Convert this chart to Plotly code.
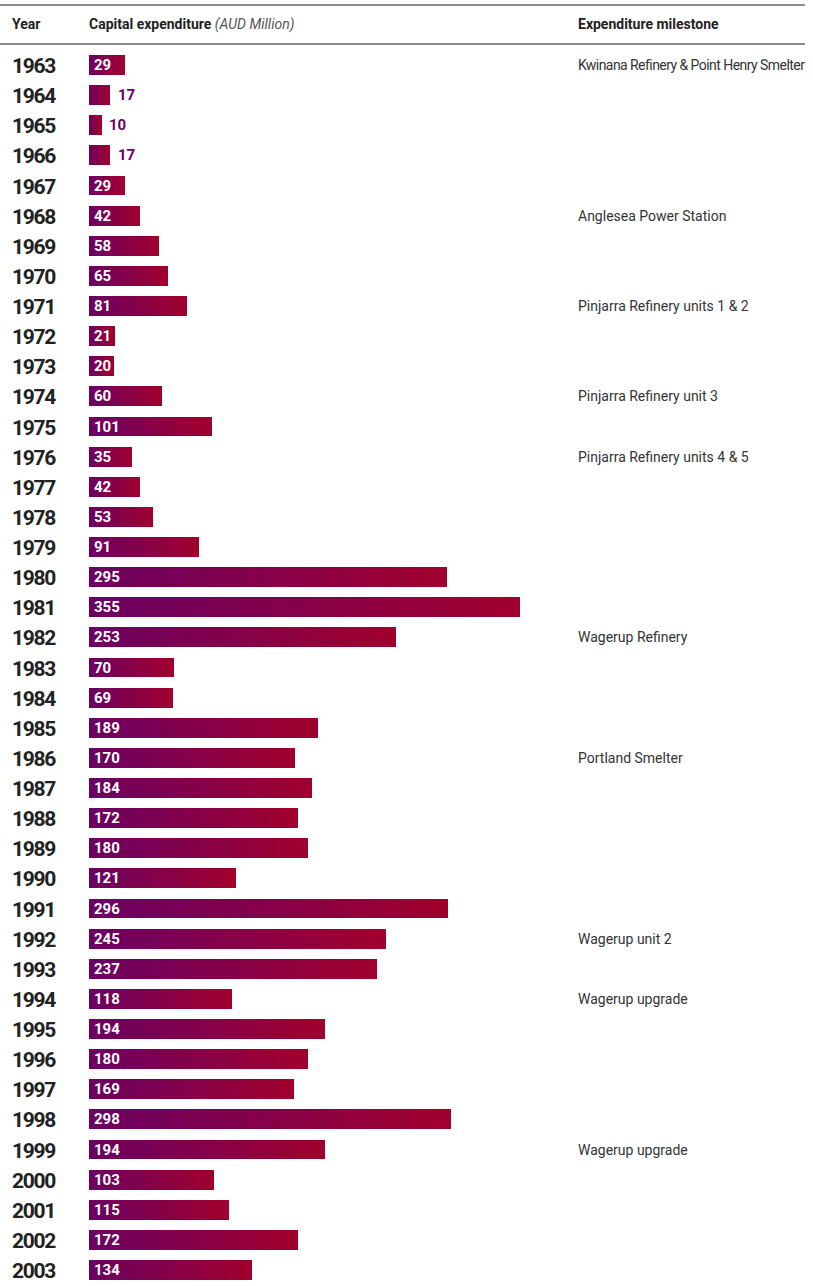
import plotly.graph_objects as go

years = list(range(1963, 2004))
capex = [29, 17, 10, 17, 29, 42, 58, 65, 81, 21, 20, 60, 101, 35, 42, 53, 91,
         295, 355, 253, 70, 69, 189, 170, 184, 172, 180, 121, 296, 245, 237,
         118, 194, 180, 169, 298, 194, 103, 115, 172, 134]
milestones = {
    1963: "Kwinana Refinery & Point Henry Smelter",
    1968: "Anglesea Power Station",
    1971: "Pinjarra Refinery units 1 & 2",
    1974: "Pinjarra Refinery unit 3",
    1976: "Pinjarra Refinery units 4 & 5",
    1982: "Wagerup Refinery",
    1986: "Portland Smelter",
    1992: "Wagerup unit 2",
    1994: "Wagerup upgrade",
    1999: "Wagerup upgrade",
}

W, H = 813, 1286
FONT = "Roboto"
C0 = (108, 0, 98)
C1 = (160, 0, 45)
N = 40

idx = list(range(len(years)))
fig = go.Figure()
for k in range(N):
    t = k / (N - 1)
    col = "rgb(%d,%d,%d)" % tuple(round(a + (b - a) * t) for a, b in zip(C0, C1))
    fig.add_trace(go.Bar(
        x=[v / N for v in capex], y=idx, orientation="h",
        marker=dict(color=col, line=dict(width=0)),
        width=0.66, showlegend=False, hoverinfo="skip"))

ann = []
for i, (yr, v) in enumerate(zip(years, capex)):
    ann.append(dict(x=10 / W, xref="paper", y=i, yref="y", yshift=-1,
                    text="<span style='letter-spacing:-1.3px'><b>%d</b></span>" % yr,
                    xanchor="left", yanchor="middle", showarrow=False,
                    font=dict(family=FONT, size=21, color="#222")))
    if v >= 20:
        ann.append(dict(x=0, xref="x", y=i, yref="y", text="<b>%d</b>" % v,
                        xanchor="left", yanchor="middle", showarrow=False, xshift=3,
                        font=dict(family=FONT, size=15, color="white")))
    else:
        ann.append(dict(x=v, xref="x", y=i, yref="y", text="<b>%d</b>" % v,
                        xanchor="left", yanchor="middle", showarrow=False, xshift=6,
                        font=dict(family=FONT, size=15, color="rgb(110,0,100)")))
    if yr in milestones:
        txt = milestones[yr]
        if len(txt) > 32:
            txt = "<span style='letter-spacing:-0.55px'>%s</span>" % txt
        ann.append(dict(x=576 / W, xref="paper", y=i, yref="y", text=txt,
                        xanchor="left", yanchor="middle", showarrow=False,
                        font=dict(family=FONT, size=14, color="#333")))

hdr_y = -1.36
ann.append(dict(x=10 / W, xref="paper", y=hdr_y, yref="y", text="<b>Year</b>",
                xanchor="left", yanchor="middle", showarrow=False,
                font=dict(family=FONT, size=14, color="#222")))
ann.append(dict(x=0, xref="x", y=hdr_y, yref="y", xshift=-2,
                text="<b>Capital expenditure</b> <i><span style='color:#555'>(AUD Million)</span></i>",
                xanchor="left", yanchor="middle", showarrow=False,
                font=dict(family=FONT, size=14, color="#222")))
ann.append(dict(x=576 / W, xref="paper", y=hdr_y, yref="y", text="<b>Expenditure milestone</b>",
                xanchor="left", yanchor="middle", showarrow=False,
                font=dict(family=FONT, size=14, color="#222")))

px_per_unit = 431 / 355
x0 = -89 / px_per_unit
x1 = (W - 89) / px_per_unit
row = 30.125
ytop = -65 / row
ybot = (H - 65) / row

shapes = [
    dict(type="line", xref="paper", yref="y", x0=0, x1=805 / W, y0=(5 - 65) / row, y1=(5 - 65) / row,
         line=dict(color="#666", width=1.5)),
    dict(type="line", xref="paper", yref="y", x0=0, x1=805 / W, y0=(44 - 65) / row, y1=(44 - 65) / row,
         line=dict(color="#666", width=1.5)),
]

fig.update_layout(
    width=W, height=H, barmode="stack", bargap=0,
    margin=dict(l=0, r=0, t=0, b=0),
    paper_bgcolor="white", plot_bgcolor="white",
    xaxis=dict(range=[x0, x1], visible=False),
    yaxis=dict(range=[ybot, ytop], visible=False),
    annotations=ann, shapes=shapes,
)
fig.write_html("out.html")
